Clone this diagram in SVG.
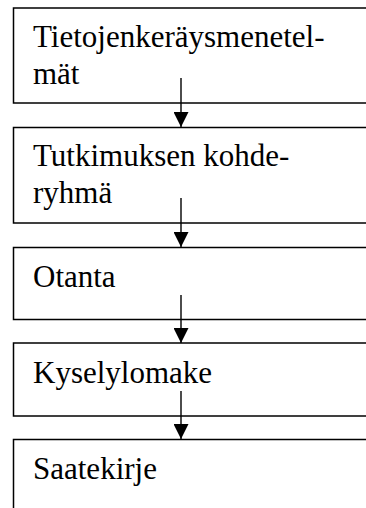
<svg xmlns="http://www.w3.org/2000/svg" width="366" height="508" viewBox="0 0 366 508">
<style>
.box{fill:#fff;stroke:#000;stroke-width:1.5}
.t{font-family:"Liberation Serif","Times New Roman",serif;font-size:31px;fill:#000}
.c{stroke:#000;stroke-width:1.4;fill:none}
</style>
<defs>
<marker id="ah" markerWidth="15" markerHeight="15" refX="15" refY="7.5" orient="auto" markerUnits="userSpaceOnUse">
<path d="M0,0 L15,7.5 L0,15 Z" fill="#000"/>
</marker>
</defs>
<rect width="366" height="508" fill="#fff"/>
<g id="n1"><rect class="box" x="13.5" y="8" width="370" height="95"/><text class="t" x="33" y="47">Tietojenkeräysmenetel-</text><text class="t" x="33" y="83.5">mät</text></g>
<g id="n2"><rect class="box" x="13.5" y="127.5" width="370" height="95.5"/><text class="t" x="33" y="166">Tutkimuksen kohde-</text><text class="t" x="33" y="203">ryhmä</text></g>
<g id="n3"><rect class="box" x="13.5" y="247.5" width="370" height="72"/><text class="t" x="33" y="287">Otanta</text></g>
<g id="n4"><rect class="box" x="13.5" y="343" width="370" height="73"/><text class="t" x="33" y="382.5">Kyselylomake</text></g>
<g id="n5"><rect class="box" x="13.5" y="439.5" width="370" height="100"/><text class="t" x="33" y="479">Saatekirje</text></g>
<g id="connectors">
<line class="c" x1="181" y1="78" x2="181" y2="127" marker-end="url(#ah)"/>
<line class="c" x1="181" y1="198" x2="181" y2="247" marker-end="url(#ah)"/>
<line class="c" x1="181" y1="295" x2="181" y2="343" marker-end="url(#ah)"/>
<line class="c" x1="181" y1="391" x2="181" y2="439" marker-end="url(#ah)"/>
</g>
</svg>
